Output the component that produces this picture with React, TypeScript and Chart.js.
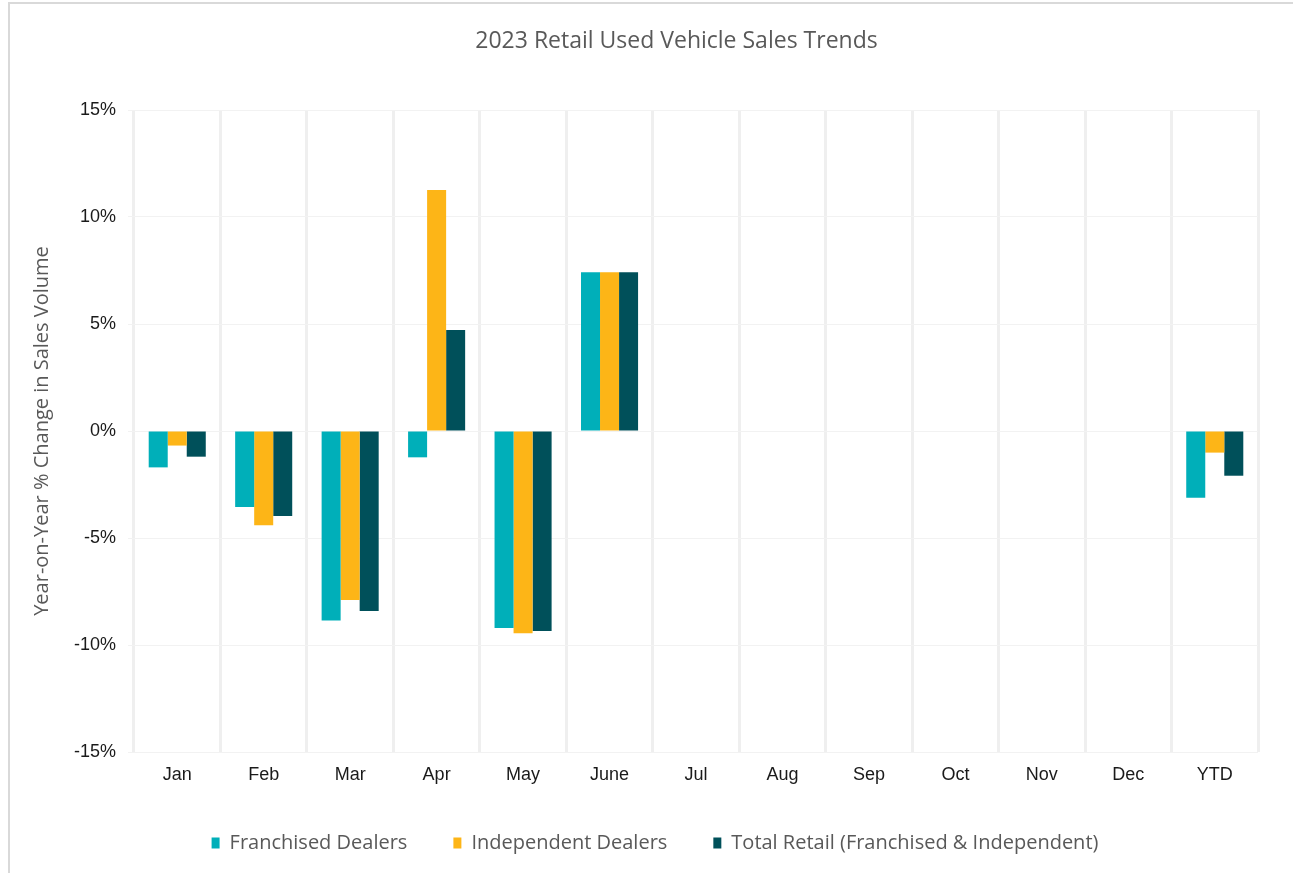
import React, { useEffect, useRef } from "react";
import { Chart, registerables } from "chart.js";

Chart.register(...registerables);

const categories = ["Jan", "Feb", "Mar", "Apr", "May", "June", "Jul", "Aug", "Sep", "Oct", "Nov", "Dec", "YTD"];
const franchised = [-1.7, -3.55, -8.86, -1.23, -9.2, 7.42, null, null, null, null, null, null, -3.12];
const independent = [-0.68, -4.4, -7.9, 11.26, -9.45, 7.42, null, null, null, null, null, null, -1.01];
const totalRetail = [-1.2, -3.97, -8.41, 4.72, -9.35, 7.42, null, null, null, null, null, null, -2.09];
const yTicks = [-15, -10, -5, 0, 5, 10, 15];

const titleText = "2023 Retail Used Vehicle Sales Trends";
const yAxisTitle = "Year-on-Year % Change in Sales Volume";
const seriesNames = ["Franchised Dealers", "Independent Dealers", "Total Retail (Franchised & Independent)"];
const seriesColors = ["#00AFB9", "#FDB517", "#00505A"];

// Excel centres title and legend on the full chart frame, which is wider than the plot box
const frameCenterPlugin = {
  id: "frameCenter",
  afterLayout(chart: any) {
    if (chart.titleBlock) {
      chart.titleBlock.left = 8;
      chart.titleBlock.right = 1345;
    }
    if (chart.legend) {
      chart.legend.left = 8;
      chart.legend.right = 1302;
    }
  },
};

export default function App() {
  const canvasRef = useRef<HTMLCanvasElement | null>(null);

  useEffect(() => {
    if (!canvasRef.current) return;
    const textFont = "'Open Sans', Lato, sans-serif";
    const tickFont = "'Liberation Sans', Arial, sans-serif";
    const chart = new Chart(canvasRef.current, {
      type: "bar",
      plugins: [frameCenterPlugin],
      data: {
        labels: categories,
        datasets: [franchised, independent, totalRetail].map((d, i) => ({
          label: seriesNames[i],
          data: d,
          backgroundColor: seriesColors[i],
          borderWidth: 0,
          categoryPercentage: 0.66,
          barPercentage: 1.0,
        })),
      },
      options: {
        responsive: false,
        animation: false,
        maintainAspectRatio: false,
        layout: { padding: { left: 0, right: 35, top: 0, bottom: 10 } },
        plugins: {
          tooltip: { enabled: false },
          title: {
            display: true,
            text: titleText,
            color: "#595959",
            font: { family: textFont, size: 23, weight: "normal" },
            padding: { top: 28, bottom: 54.4 },
          },
          legend: {
            position: "bottom",
            labels: {
              color: "#595959",
              font: { family: textFont, size: 20 },
              boxWidth: 8,
              boxHeight: 11,
              padding: 46,
            },
          },
        },
        scales: {
          x: {
            offset: true,
            afterFit: (s: any) => { s.height = 35; },
            grid: {
              offset: true,
              color: "#EFEFEF",
              lineWidth: 3,
              drawTicks: false,
            },
            border: { display: false },
            ticks: {
              color: "#1a1a1a",
              font: { family: tickFont, size: 18 },
              padding: 12,
            },
          },
          y: {
            min: -15,
            max: 15,
            afterFit: (s: any) => { s.width = 134; },
            afterBuildTicks: (s: any) => { s.ticks = yTicks.map((v) => ({ value: v })); },
            grid: {
              color: "#F2F2F2",
              lineWidth: 1,
              drawTicks: true,
              tickLength: 6,
            },
            border: { display: false },
            title: {
              display: true,
              text: yAxisTitle,
              color: "#595959",
              font: { family: textFont, size: 20, weight: "normal" },
              padding: { top: 30, bottom: 0 },
            },
            ticks: {
              color: "#1a1a1a",
              font: { family: tickFont, size: 18 },
              padding: 12,
              callback: (v: any) => `${v}%`,
            },
          },
        },
      },
    });
    return () => chart.destroy();
  }, []);

  return (
    <div style={{ position: "fixed", left: 0, top: 0, width: 1293, height: 873, background: "#fff", overflow: "hidden" }}>
      <div
        style={{
          position: "absolute",
          left: 8,
          top: 2,
          width: 1300,
          height: 900,
          border: "2px solid #D9D9D9",
          boxSizing: "border-box",
        }}
      />
      <canvas ref={canvasRef} width={1293} height={873} style={{ position: "absolute", left: 0, top: 0 }} />
    </div>
  );
}
